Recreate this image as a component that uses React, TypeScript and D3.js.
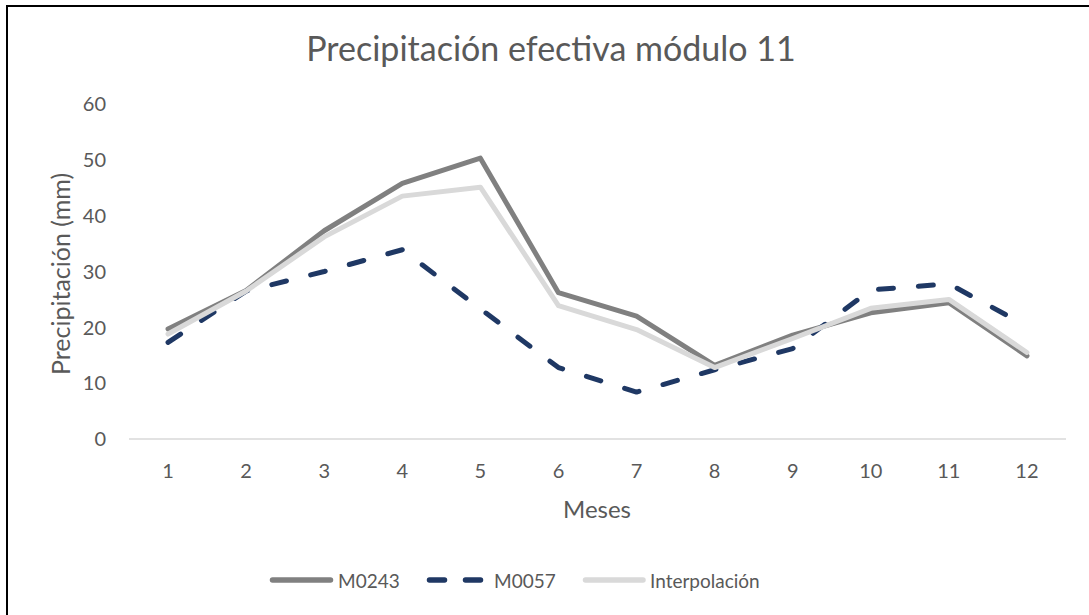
import React from "react";
import * as d3 from "d3";

const months = ["1", "2", "3", "4", "5", "6", "7", "8", "9", "10", "11", "12"];
const m0243 = [19.7, 26.6, 37.3, 45.8, 50.3, 26.2, 22.0, 13.2, 18.6, 22.6, 24.4, 14.9];
const m0057 = [17.3, 26.5, 30.0, 33.9, 23.3, 12.8, 8.4, 12.4, 16.2, 26.7, 27.8, 20.2];
const interp = [18.8, 26.5, 36.2, 43.5, 45.1, 23.9, 19.6, 12.8, 18.0, 23.4, 25.0, 15.5];
const yTicks = [0, 10, 20, 30, 40, 50, 60];

const W = 1089;
const H = 615;
const plot = { left: 129, right: 1066, top: 104, bottom: 439 };
const font = "Lato, 'Open Sans', sans-serif";
const textColor = "#595959";

export default function App() {
  const x = d3.scaleBand<string>().domain(months).range([plot.left, plot.right]);
  const y = d3.scaleLinear().domain([0, 60]).range([plot.bottom, plot.top]);
  const cx = (m: string) => (x(m) as number) + x.bandwidth() / 2;
  const line = (vals: number[]) =>
    d3.line<number>().x((_, i) => cx(months[i])).y((v) => y(v))(vals) as string;

  const series = [
    { name: "M0243", vals: m0243, color: "#808080", dash: undefined as string | undefined },
    { name: "M0057", vals: m0057, color: "#1f3864", dash: "15 25" },
    { name: "Interpolación", vals: interp, color: "#d9d9d9", dash: undefined as string | undefined },
  ];

  const legend = [
    { ...series[0], x1: 272.5, x2: 330.5, tx: 338, ld: undefined as string | undefined },
    { ...series[1], x1: 429.5, x2: 480.5, tx: 494, ld: "15 21" },
    { ...series[2], x1: 585.5, x2: 643, tx: 650, ld: undefined as string | undefined },
  ];

  return (
    <div style={{ position: "fixed", left: 0, top: 0 }}>
      <svg width={W} height={H} style={{ display: "block", background: "#fff" }}>
        <rect x={7} y={6} width={W + 10} height={H + 10} fill="#fff" stroke="#000" strokeWidth={2} />
        <text x={551} y={61} textAnchor="middle" fontFamily={font} fontSize={34} fill={textColor}>
          Precipitación efectiva módulo 11
        </text>
        {yTicks.map((t) => (
          <text key={t} x={106} y={y(t)} dy="0.36em" textAnchor="end" fontFamily={font} fontSize={20} fill={textColor}>
            {t}
          </text>
        ))}
        <line x1={plot.left} x2={plot.right} y1={y(0)} y2={y(0)} stroke="#d9d9d9" strokeWidth={1.5} />
        {months.map((m) => (
          <text key={m} x={cx(m)} y={478} textAnchor="middle" fontFamily={font} fontSize={20} fill={textColor}>
            {m}
          </text>
        ))}
        <text x={597} y={518} textAnchor="middle" fontFamily={font} fontSize={24} fill={textColor}>
          Meses
        </text>
        <text
          transform={`translate(70,274) rotate(-90)`}
          textAnchor="middle"
          fontFamily={font}
          fontSize={25}
          fill={textColor}
        >
          Precipitación (mm)
        </text>
        {series.map((s) => (
          <path
            key={s.name}
            d={line(s.vals)}
            fill="none"
            stroke={s.color}
            strokeWidth={5}
            strokeLinejoin="round"
            strokeLinecap="round"
            strokeDasharray={s.dash}
          />
        ))}
        {legend.map((l) => (
          <g key={l.name}>
            <line
              x1={l.x1}
              x2={l.x2}
              y1={580}
              y2={580}
              stroke={l.color}
              strokeWidth={5.5}
              strokeLinecap="round"
              strokeDasharray={l.ld}
            />
            <text x={l.tx} y={588} fontFamily={font} fontSize={19} fill={textColor}>
              {l.name}
            </text>
          </g>
        ))}
      </svg>
    </div>
  );
}
